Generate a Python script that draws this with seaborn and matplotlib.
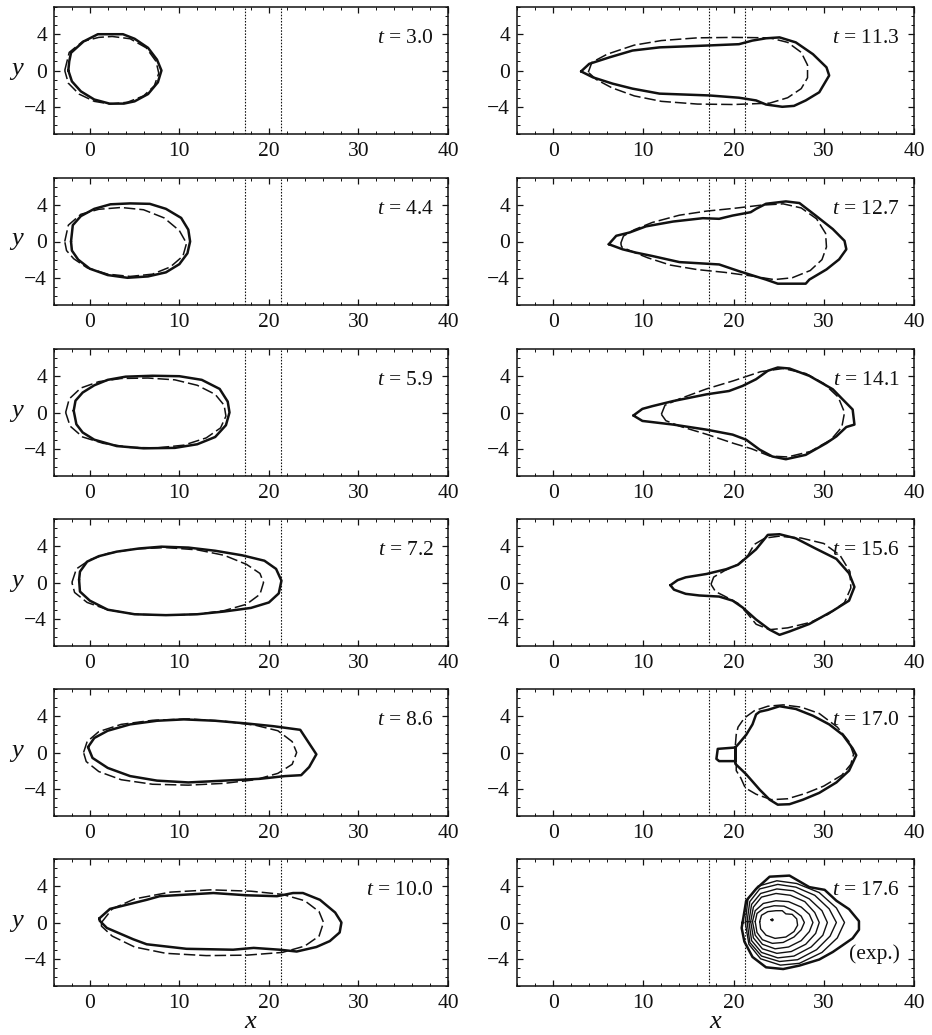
import numpy as np
import matplotlib
matplotlib.use("Agg")
import matplotlib.pyplot as plt
from matplotlib.ticker import MultipleLocator
import seaborn as sns

# ---------------------------------------------------------------------------
# Axis ranges, ticks and gauge positions
# ---------------------------------------------------------------------------
X_RANGE = (-4, 40)
Y_RANGE = (-7, 7)
X_TICKS = [0, 10, 20, 30, 40]
Y_TICKS = [-4, 0, 4]
GAUGE_X = [17.3, 21.3]

TIMES_LEFT = ["3.0", "4.4", "5.9", "7.2", "8.6", "10.0"]
TIMES_RIGHT = ["11.3", "12.7", "14.1", "15.6", "17.0", "17.6"]

# ---------------------------------------------------------------------------
# Outlines: measured (solid) and computed (dashed), (x, y) pairs
# ---------------------------------------------------------------------------
EXP_3_0 = [(-2.4, 0.0), (-2.3, 1.0), (-2.1, 1.95), (-0.7, 3.2), (0.9, 4.0), (3.7, 4.0),
           (5.0, 3.5), (6.5, 2.5), (7.5, 1.2), (8.0, 0.0), (7.6, -1.3), (6.5, -2.6),
           (5.0, -3.4), (3.8, -3.65), (2.2, -3.65), (0.5, -3.2), (-1.0, -2.3), (-2.0, -1.2)]
MODEL_3_0 = [(-2.8, 0.0), (-2.3, 2.0), (-0.8, 3.2), (1.0, 3.65), (2.5, 3.75), (4.5, 3.5),
             (6.3, 2.5), (7.4, 1.0), (7.7, -0.3), (7.2, -1.7), (6.0, -2.8), (4.2, -3.5),
             (2.3, -3.7), (0.5, -3.4), (-1.2, -2.6), (-2.4, -1.4)]

EXP_4_4 = [(-2.1, 0.0), (-1.9, 1.8), (-1.0, 2.8), (0.5, 3.6), (2.3, 4.1), (4.5, 4.2),
           (6.7, 4.15), (8.5, 3.6), (10.2, 2.6), (11.0, 1.3), (11.2, 0.0), (10.9, -1.3),
           (10.0, -2.5), (8.5, -3.4), (6.5, -3.85), (4.2, -4.0), (2.0, -3.7), (0.0, -3.0),
           (-1.3, -2.0), (-2.0, -1.0)]
MODEL_4_4 = [(-2.8, 0.0), (-2.4, 1.8), (-1.0, 3.0), (1.0, 3.55), (3.5, 3.75), (6.0, 3.5),
             (8.3, 2.6), (10.0, 1.2), (10.8, -0.2), (10.4, -1.6), (9.0, -2.8), (7.0, -3.6),
             (4.5, -3.85), (2.0, -3.6), (-0.3, -2.9), (-1.8, -1.9), (-2.6, -1.0)]

EXP_5_9 = [(-1.8, 0.2), (-1.6, 1.3), (-0.8, 2.2), (0.5, 3.0), (2.0, 3.6), (4.0, 3.95),
           (7.0, 4.05), (10.0, 4.0), (12.5, 3.6), (14.5, 2.6), (15.4, 1.2), (15.6, 0.0),
           (15.2, -1.4), (14.0, -2.7), (12.0, -3.5), (9.5, -3.9), (6.0, -3.95), (3.0, -3.7),
           (0.5, -3.0), (-0.8, -2.2), (-1.5, -1.3)]
MODEL_5_9 = [(-2.7, 0.0), (-2.3, 1.5), (-1.0, 2.7), (1.0, 3.4), (3.5, 3.75), (6.5, 3.8),
             (9.5, 3.6), (12.0, 3.0), (14.0, 2.0), (15.0, 0.8), (15.2, -0.4), (14.6, -1.7),
             (13.0, -2.8), (10.5, -3.6), (7.5, -3.9), (4.5, -3.85), (1.5, -3.4), (-0.8, -2.7),
             (-2.2, -1.5)]

EXP_7_2 = [(-1.2, 0.3), (-1.1, 1.2), (-0.3, 2.3), (1.0, 2.9), (3.0, 3.4), (5.5, 3.75),
           (8.0, 3.95), (11.0, 3.85), (14.0, 3.5), (17.0, 3.0), (19.5, 2.4), (20.8, 1.5),
           (21.4, 0.2), (21.1, -1.2), (20.0, -2.2), (18.0, -2.8), (15.0, -3.2), (12.0, -3.5),
           (8.5, -3.6), (5.0, -3.5), (2.0, -3.0), (0.0, -2.0), (-1.1, -1.0)]
MODEL_7_2 = [(-2.0, 0.0), (-1.5, 1.5), (0.0, 2.5), (2.0, 3.2), (5.0, 3.7), (8.5, 3.85),
             (12.0, 3.6), (15.0, 3.0), (17.5, 2.0), (19.0, 1.0), (19.4, 0.0), (19.0, -1.3),
             (17.5, -2.4), (15.0, -3.1), (12.0, -3.5), (8.5, -3.6), (5.0, -3.5), (2.0, -3.0),
             (-0.3, -2.2), (-1.7, -1.1)]

EXP_8_6 = [(-0.2, 0.6), (0.5, 1.6), (2.0, 2.4), (4.5, 3.1), (7.5, 3.5), (10.5, 3.65),
           (14.0, 3.5), (17.5, 3.2), (20.5, 2.9), (23.5, 2.5), (24.5, 1.0), (25.3, -0.2),
           (24.5, -1.6), (23.6, -2.5), (21.8, -2.6), (19.0, -2.9), (15.0, -3.1), (11.0, -3.3),
           (7.5, -3.1), (4.5, -2.6), (2.0, -1.7), (0.3, -0.6)]
MODEL_8_6 = [(-0.7, 0.0), (-0.3, 1.2), (1.0, 2.3), (3.5, 3.1), (7.0, 3.55), (11.0, 3.7),
             (15.0, 3.45), (18.5, 3.0), (21.0, 2.4), (22.6, 1.2), (23.1, 0.0), (22.6, -1.3),
             (21.0, -2.3), (18.5, -3.0), (15.0, -3.4), (11.0, -3.6), (7.0, -3.5), (3.5, -3.0),
             (1.0, -2.1), (-0.4, -1.0)]

EXP_10_0 = [(1.06, 0.45), (2.25, 1.5), (6.35, 2.5), (7.8, 2.9), (13.8, 3.25), (17.5, 3.0),
            (20.9, 2.9), (22.7, 3.25), (23.8, 3.25), (25.7, 2.5), (27.4, 1.1), (28.1, 0.0),
            (27.9, -1.1), (26.8, -2.05), (25.3, -2.7), (23.1, -3.2), (21.2, -3.0), (18.3, -2.8),
            (16.0, -3.0), (10.8, -2.9), (6.35, -2.4), (4.85, -1.85), (1.9, -0.6), (1.1, 0.2)]
MODEL_10_0 = [(1.3, 0.0), (2.5, 1.5), (5.0, 2.6), (9.0, 3.35), (13.5, 3.6), (18.0, 3.45),
              (21.5, 3.1), (24.0, 2.4), (25.6, 1.2), (26.1, 0.0), (25.6, -1.5), (24.0, -2.6),
              (21.5, -3.3), (17.5, -3.6), (13.0, -3.65), (8.5, -3.4), (5.0, -2.7), (2.5, -1.5),
              (1.3, -0.4)]

EXP_11_3 = [(3.1, -0.1), (4.0, 0.73), (6.25, 1.45), (8.8, 2.2), (11.8, 2.55), (17.0, 2.75),
            (20.6, 2.9), (22.1, 3.3), (23.6, 3.55), (25.1, 3.65), (26.9, 3.1), (28.8, 1.8),
            (30.3, 0.35), (30.6, -0.55), (29.5, -2.4), (28.0, -3.3), (26.7, -3.9), (25.4, -4.0),
            (23.6, -3.75), (22.5, -3.3), (20.6, -3.0), (17.3, -2.75), (11.8, -2.55), (8.8, -2.0),
            (6.6, -1.45), (4.4, -0.75)]
MODEL_11_3 = [(3.9, -0.2), (4.3, 0.9), (6.0, 1.8), (9.0, 2.8), (12.0, 3.3), (16.0, 3.6),
              (20.0, 3.65), (24.0, 3.6), (26.0, 3.1), (27.5, 2.0), (28.2, 0.6), (28.2, -0.8),
              (27.5, -2.0), (26.0, -3.0), (24.0, -3.6), (20.0, -3.75), (16.0, -3.7), (12.0, -3.4),
              (9.0, -2.8), (6.5, -1.9), (4.8, -1.0)]

EXP_12_7 = [(6.17, -0.3), (7.0, 0.63), (8.5, 1.0), (10.3, 1.67), (13.3, 2.2), (16.6, 2.57),
            (18.4, 2.5), (19.9, 2.86), (21.9, 3.23), (22.5, 3.6), (23.6, 4.16), (25.8, 4.42),
            (27.3, 4.24), (29.1, 2.86), (31.0, 1.37), (32.3, 0.07), (32.5, -0.86), (31.7, -1.97),
            (30.3, -3.08), (28.4, -4.2), (28.0, -4.65), (24.9, -4.65), (23.6, -4.2), (20.6, -3.27),
            (18.4, -2.53), (14.0, -2.27), (11.0, -1.6), (9.2, -1.23), (7.7, -0.86)]
MODEL_12_7 = [(7.5, -0.2), (7.8, 0.6), (9.0, 1.3), (11.0, 2.1), (14.0, 2.9), (17.0, 3.35),
              (20.0, 3.65), (23.0, 4.0), (25.5, 4.15), (27.5, 3.7), (29.2, 2.5), (30.2, 0.9),
              (30.3, -0.6), (29.8, -2.0), (28.5, -3.2), (26.5, -4.0), (24.5, -4.2), (22.0, -3.8),
              (19.0, -3.4), (16.0, -3.1), (13.0, -2.6), (10.5, -1.8), (8.5, -1.0), (7.6, -0.6)]

EXP_14_1 = [(8.9, -0.33), (9.9, 0.4), (11.0, 0.7), (13.3, 1.26), (17.0, 2.0), (19.5, 2.37),
            (21.0, 2.93), (22.5, 3.67), (23.8, 4.6), (24.9, 4.96), (26.2, 4.85), (28.4, 4.04),
            (31.0, 2.56), (32.1, 1.44), (33.2, 0.33), (33.4, -1.33), (32.5, -1.6), (31.4, -2.63),
            (30.3, -3.37), (28.0, -4.67), (25.8, -5.15), (24.3, -4.85), (22.9, -4.1), (21.4, -3.0),
            (19.9, -2.44), (17.0, -1.89), (13.3, -1.33), (9.9, -0.93)]
MODEL_14_1 = [(12.0, -0.2), (12.4, 0.8), (14.0, 1.5), (17.0, 2.6), (20.0, 3.5), (23.0, 4.5),
              (25.5, 4.85), (28.0, 4.3), (30.0, 3.2), (31.6, 1.7), (32.3, 0.0), (32.0, -1.6),
              (30.8, -3.0), (28.5, -4.3), (26.0, -4.9), (24.0, -4.8), (22.0, -4.0), (20.0, -3.4),
              (17.0, -2.4), (14.0, -1.5), (12.5, -0.9)]

EXP_15_6 = [(13.0, -0.3), (13.8, 0.26), (14.7, 0.57), (17.0, 0.94), (19.2, 1.47), (20.5, 1.96),
            (21.4, 2.72), (22.5, 3.66), (23.8, 5.25), (25.1, 5.32), (26.9, 4.87), (29.1, 3.74),
            (31.4, 2.6), (32.8, 1.02), (33.4, -0.49), (32.8, -2.0), (31.0, -3.13), (28.4, -4.57),
            (26.2, -5.4), (25.1, -5.77), (24.0, -5.2), (22.5, -4.08), (21.0, -2.75), (19.9, -2.0),
            (18.4, -1.55), (16.2, -1.43), (14.7, -1.25), (13.4, -0.79)]
MODEL_15_6 = [(17.5, -0.2), (17.8, 0.6), (19.0, 1.3), (20.5, 2.0), (21.6, 3.0), (22.3, 4.2),
              (23.5, 4.9), (25.0, 5.1), (27.5, 4.9), (30.0, 4.3), (31.8, 3.0), (32.9, 1.2),
              (33.0, -0.6), (32.3, -2.2), (30.5, -3.5), (28.5, -4.4), (26.0, -5.0), (24.0, -5.2),
              (22.5, -4.6), (21.6, -3.5), (20.5, -2.3), (19.0, -1.5), (18.0, -1.0)]

EXP_17_0 = [(20.2, 0.55), (18.25, 0.4), (18.1, -0.7), (18.4, -0.95), (20.2, -0.95), (20.2, -1.25),
            (21.4, -2.4), (22.9, -4.1), (24.0, -5.2), (24.9, -5.75), (26.2, -5.7), (27.7, -5.2),
            (29.5, -4.45), (31.4, -3.3), (32.8, -2.0), (33.6, -0.3), (33.2, 0.45), (32.1, 1.95),
            (30.6, 3.1), (28.8, 4.05), (26.9, 4.8), (25.1, 5.1), (23.8, 4.7), (22.9, 4.5),
            (22.5, 4.2), (22.1, 3.1), (21.4, 1.95), (20.6, 1.0), (20.2, 0.55), (20.2, -0.95)]
MODEL_17_0 = [(20.2, 0.8), (20.3, 2.0), (20.5, 2.8), (21.2, 3.8), (22.3, 4.6), (23.8, 5.1),
              (25.5, 5.25), (27.5, 5.0), (29.5, 4.3), (31.5, 2.8), (32.8, 1.2), (33.3, -0.2),
              (33.0, -1.3), (32.0, -2.5), (30.0, -3.7), (28.0, -4.5), (26.0, -5.1), (24.2, -5.2),
              (22.5, -4.6), (21.3, -3.9), (20.8, -2.8), (20.3, -2.0), (20.3, -0.5)]

# Measured depth contours at t = 17.6, outermost first
CONTOUR_0 = [(21.0, 0.0), (21.4, 2.4), (22.5, 3.7), (24.0, 5.05), (26.2, 5.17), (28.4, 3.9),
             (30.1, 3.6), (31.4, 2.4), (32.8, 1.47), (33.9, 0.15), (33.9, -0.8), (33.2, -1.74),
             (32.1, -2.5), (31.0, -3.25), (29.5, -4.08), (27.3, -4.75), (25.5, -5.13),
             (23.6, -4.94), (22.1, -3.8), (21.2, -2.1), (20.9, -0.6)]
CONTOUR_1 = [(21.3, 0.0), (21.6, 2.6), (22.7, 4.0), (24.8, 4.6), (27.0, 4.3), (29.5, 3.3),
             (31.4, 1.6), (32.3, 0.0), (31.5, -1.7), (29.8, -3.3), (27.3, -4.5), (25.2, -4.7),
             (23.0, -4.0), (21.7, -2.4)]
CONTOUR_2 = [(21.5, 0.1), (21.8, 2.3), (22.9, 3.7), (24.9, 4.2), (26.9, 3.9), (29.0, 3.0),
             (30.6, 1.5), (31.4, 0.0), (30.7, -1.5), (29.2, -3.0), (27.1, -4.1), (25.1, -4.3),
             (23.1, -3.7), (21.8, -2.2)]
CONTOUR_3 = [(21.7, 0.1), (22.0, 2.0), (23.0, 3.2), (24.8, 3.7), (26.6, 3.5), (28.4, 2.6),
             (29.8, 1.3), (30.4, 0.0), (29.9, -1.4), (28.6, -2.7), (26.7, -3.7), (24.9, -3.9),
             (23.1, -3.3), (22.0, -2.0)]
CONTOUR_4 = [(21.9, 0.1), (22.2, 1.7), (23.1, 2.8), (24.7, 3.2), (26.3, 3.0), (27.9, 2.3),
             (29.0, 1.1), (29.5, 0.0), (29.1, -1.2), (28.0, -2.4), (26.4, -3.2), (24.8, -3.4),
             (23.2, -2.9), (22.2, -1.7)]
CONTOUR_5 = [(22.1, 0.1), (22.4, 1.3), (23.3, 2.1), (24.7, 2.4), (26.1, 2.3), (27.5, 1.7),
             (28.4, 0.9), (28.8, 0.0), (28.4, -1.0), (27.5, -2.0), (26.1, -2.7), (24.6, -2.9),
             (23.2, -2.4), (22.4, -1.4)]
CONTOUR_6 = [(22.4, 0.1), (22.6, 1.0), (23.4, 1.6), (24.5, 1.85), (25.6, 1.8), (26.7, 1.3),
             (27.5, 0.7), (27.85, 0.0), (27.5, -0.8), (26.7, -1.6), (25.5, -2.2), (24.3, -2.3),
             (23.2, -1.9), (22.6, -1.1)]
CONTOUR_7 = [(22.9, 0.1), (23.1, 0.8), (23.8, 1.2), (24.7, 1.3), (25.4, 1.3), (25.8, 0.95),
             (26.5, 0.9), (27.0, 0.4), (27.1, -0.3), (26.7, -1.0), (25.8, -1.6), (24.6, -1.75),
             (23.6, -1.4), (23.0, -0.7)]
CONTOUR_8 = [(24.15, 0.3), (24.3, 0.4), (24.4, 0.28), (24.28, 0.18)]

LEFT_PANELS = [(EXP_3_0, MODEL_3_0), (EXP_4_4, MODEL_4_4), (EXP_5_9, MODEL_5_9),
               (EXP_7_2, MODEL_7_2), (EXP_8_6, MODEL_8_6), (EXP_10_0, MODEL_10_0)]
RIGHT_PANELS = [(EXP_11_3, MODEL_11_3), (EXP_12_7, MODEL_12_7), (EXP_14_1, MODEL_14_1),
                (EXP_15_6, MODEL_15_6), (EXP_17_0, MODEL_17_0), None]
CONTOURS_17_6 = [CONTOUR_0, CONTOUR_1, CONTOUR_2, CONTOUR_3, CONTOUR_4,
                 CONTOUR_5, CONTOUR_6, CONTOUR_7, CONTOUR_8]

# ---------------------------------------------------------------------------
# Style
# ---------------------------------------------------------------------------
sns.set_theme(style="ticks")
plt.rcParams["font.family"] = ["Liberation Serif", "DejaVu Serif"]
plt.rcParams["mathtext.fontset"] = "custom"
plt.rcParams["mathtext.rm"] = "Liberation Serif"
plt.rcParams["mathtext.it"] = "Liberation Serif:italic"
plt.rcParams["axes.unicode_minus"] = True

INK = "#111111"
FS = 15.5


def draw_outline(ax, pts, lw, dashed=False):
    arr = np.array(list(pts) + [pts[0]], dtype=float)
    kw = dict(color=INK, linewidth=lw)
    if dashed:
        kw["dashes"] = (7.5, 2.6)
    sns.lineplot(x=arr[:, 0], y=arr[:, 1], sort=False, estimator=None,
                 ax=ax, legend=False, **kw)


def style_axes(ax):
    ax.set_xlim(*X_RANGE)
    ax.set_ylim(*Y_RANGE)
    ax.set_xticks(X_TICKS)
    ax.set_yticks(Y_TICKS)
    ax.xaxis.set_minor_locator(MultipleLocator(2))
    ax.yaxis.set_minor_locator(MultipleLocator(1))
    ax.tick_params(which="both", direction="in", top=True, right=True,
                   color=INK, labelsize=FS, labelcolor=INK)
    ax.tick_params(which="major", length=4.5, width=0.9)
    ax.tick_params(which="minor", length=2.2, width=0.7)
    ax.tick_params(axis="x", pad=6)
    ax.tick_params(axis="y", pad=5)
    for s in ax.spines.values():
        s.set_linewidth(1.1)
        s.set_color(INK)
    ax.set_xlabel("")
    ax.set_ylabel("")
    for gx in GAUGE_X:
        ax.axvline(gx, color=INK, linewidth=0.8, linestyle=(0, (1.4, 1.4)), zorder=1)


def time_label(ax, value):
    ax.text(0.965, 0.755, rf"$t$ = {value}", transform=ax.transAxes,
            ha="right", va="center", fontsize=FS, color=INK)


fig = plt.figure(figsize=(9.32, 10.35), dpi=100)
W, H = 932.0, 1035.0
row_tops = [7, 178, 349, 519, 689, 859]
ax_h = 127
left_x, left_w = 54, 394
right_x, right_w = 517, 397

for i, top in enumerate(row_tops):
    bottom = 1 - (top + ax_h) / H
    # left column
    axl = fig.add_axes([left_x / W, bottom, left_w / W, ax_h / H])
    style_axes(axl)
    exp, model = LEFT_PANELS[i]
    draw_outline(axl, model, lw=1.1, dashed=True)
    draw_outline(axl, exp, lw=1.8)
    time_label(axl, TIMES_LEFT[i])
    axl.text(-0.094, 0.5, r"$y$", transform=axl.transAxes, ha="center",
             va="center", fontsize=19, color=INK)

    # right column
    axr = fig.add_axes([right_x / W, bottom, right_w / W, ax_h / H])
    style_axes(axr)
    if RIGHT_PANELS[i] is not None:
        exp, model = RIGHT_PANELS[i]
        draw_outline(axr, model, lw=1.1, dashed=True)
        draw_outline(axr, exp, lw=1.8)
    else:
        for k, c in enumerate(CONTOURS_17_6):
            draw_outline(axr, c, lw=1.8 if k == 0 else 1.0)
        axr.text(0.965, 0.25, "(exp.)", transform=axr.transAxes,
                 ha="right", va="center", fontsize=FS, color=INK)
    time_label(axr, TIMES_RIGHT[i])

    if i == len(row_tops) - 1:
        for a in (axl, axr):
            a.text(0.5, -0.285, r"$x$", transform=a.transAxes, ha="center",
                   va="center", fontsize=19, color=INK)

fig.savefig("out.png", dpi=100)
